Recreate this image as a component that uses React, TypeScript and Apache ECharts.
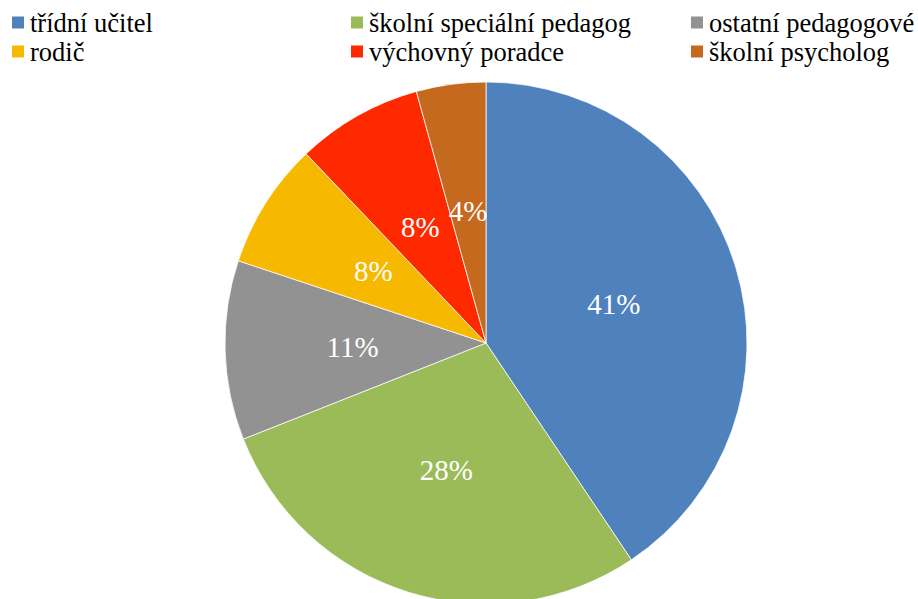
import React, { useEffect, useRef } from "react";
import * as echarts from "echarts";

const categories = [
  "třídní učitel",
  "školní speciální pedagog",
  "ostatní pedagogové",
  "rodič",
  "výchovný poradce",
  "školní psycholog",
];
const values = [40.6, 28.4, 11.1, 7.8, 7.8, 4.3];
const colors = ["#4F81BD", "#9BBB59", "#929292", "#F7B900", "#FF2900", "#C5691F"];
const legendColumns = [
  ["třídní učitel", "rodič"],
  ["školní speciální pedagog", "výchovný poradce"],
  ["ostatní pedagogové", "školní psycholog"],
];
const legendLefts = [10, 349, 689];

export default function App() {
  const ref = useRef<HTMLDivElement>(null);
  useEffect(() => {
    if (!ref.current) return;
    const chart = echarts.init(ref.current, null, { renderer: "svg" });
    const font = "Times New Roman";
    chart.setOption({
      animation: false,
      color: colors,
      legend: legendColumns.map((col, i) => ({
        data: col,
        orient: "vertical",
        left: legendLefts[i],
        top: 8,
        padding: 0,
        itemGap: 0,
        itemWidth: 14,
        itemHeight: 14,
        icon: "rect",
        selectedMode: false,
        textStyle: {
          fontFamily: font,
          fontSize: 26.5,
          color: "#000",
          lineHeight: 29,
        },
      })),
      series: [
        {
          type: "pie",
          center: [486, 343],
          radius: [0, 261],
          startAngle: 90,
          clockwise: true,
          avoidLabelOverlap: false,
          itemStyle: { borderColor: "#ffffff", borderWidth: 0.75 },
          label: {
            show: true,
            position: "inside",
            formatter: (p: any) => `${Math.round(p.value)}%`,
            color: "#fff",
            fontFamily: font,
            fontSize: 29,
          },
          labelLine: { show: false },
          emphasis: { disabled: true },
          data: categories.map((name, i) => ({ name, value: values[i] })),
        },
      ],
    });
    return () => chart.dispose();
  }, []);
  return (
    <div
      ref={ref}
      style={{ position: "fixed", left: 0, top: 0, width: 918, height: 599, background: "#fff" }}
    />
  );
}
